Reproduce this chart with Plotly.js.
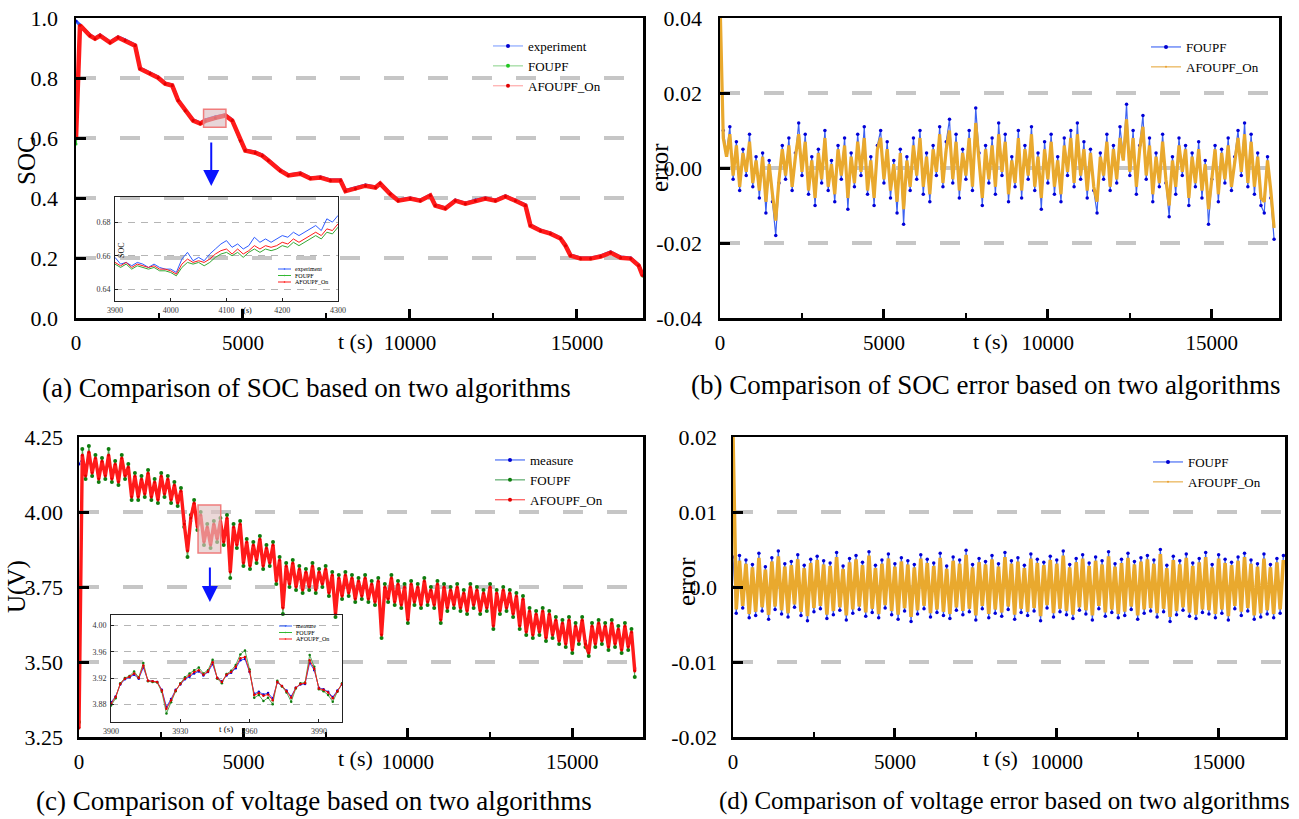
<!DOCTYPE html>
<html>
<head>
<meta charset="utf-8">
<script src="https://cdn.plot.ly/plotly-3.0.1.min.js"></script>
<style>html,body{margin:0;padding:0;background:#fff;}#chart{width:1299px;height:819px;}</style>
</head>
<body>
<div id="chart"></div>
<script>
// ---------- DATA ----------
// (a) SOC main
const tSOC = [0,120,420,570,720,1020,1260,1470,1770,1920,
  2220,2460,2670,2880,3060,3270,3510,3720,3870,4170,
  4470,4680,4920,5070,5370,5580,5760,6120,6360,6720,
  7020,7320,7620,7920,8070,8370,8670,8970,9110,9410,
  9650,10010,10310,10610,10760,11060,11360,11660,11960,12260,
  12560,12860,13160,13460,13610,13910,14210,14510,14660,14810,
  15110,15410,15710,16010,16310,16610,16850,16970];
const socExperiment = [0.99,0.977,0.943,0.933,0.943,0.92,0.937,0.927,0.91,0.833,
  0.817,0.803,0.783,0.777,0.727,0.693,0.66,0.65,0.66,0.67,
  0.677,0.66,0.593,0.56,0.553,0.543,0.527,0.493,0.477,0.483,
  0.467,0.47,0.46,0.46,0.425,0.433,0.443,0.437,0.45,0.415,
  0.393,0.40,0.393,0.41,0.377,0.367,0.393,0.383,0.393,0.40,
  0.393,0.407,0.393,0.377,0.31,0.293,0.283,0.267,0.243,0.21,
  0.20,0.20,0.207,0.22,0.203,0.20,0.177,0.143];
const socFOUPF = [0.58,0.975,0.940,0.930,0.940,0.917,0.934,0.924,0.907,0.830,
  0.814,0.800,0.780,0.774,0.724,0.690,0.657,0.647,0.656,0.665,
  0.673,0.657,0.590,0.557,0.550,0.540,0.524,0.490,0.474,0.480,
  0.464,0.467,0.457,0.457,0.422,0.430,0.440,0.434,0.447,0.412,
  0.390,0.397,0.390,0.407,0.374,0.364,0.390,0.380,0.390,0.397,
  0.390,0.404,0.390,0.374,0.307,0.290,0.280,0.264,0.240,0.207,
  0.197,0.197,0.204,0.217,0.200,0.197,0.174,0.140];
const socAFOUPF = [0.60,0.976,0.941,0.931,0.941,0.918,0.935,0.925,0.908,0.831,
  0.815,0.801,0.781,0.775,0.725,0.691,0.658,0.648,0.657,0.667,
  0.675,0.658,0.591,0.558,0.551,0.541,0.525,0.491,0.475,0.481,
  0.465,0.468,0.458,0.458,0.423,0.431,0.441,0.435,0.448,0.413,
  0.391,0.398,0.391,0.408,0.375,0.365,0.391,0.381,0.391,0.398,
  0.391,0.405,0.391,0.375,0.308,0.291,0.281,0.265,0.241,0.208,
  0.198,0.198,0.205,0.218,0.201,0.198,0.175,0.141];

// (a) inset 3900-4300 s
const tInsetA = [3900,3910,3920,3930,3940,3950,3960,3970,3980,3990,4000,4010,4020,4030,4040,4050,4060,4070,4080,4090,4100,
  4110,4120,4130,4140,4150,4160,4170,4180,4190,4200,4210,4220,4230,4240,4250,4260,4270,4280,4290,4300];
const insAExperiment = [0.659,0.655,0.656,0.654,0.656,0.655,0.653,0.655,0.653,0.652,0.652,0.650,0.658,0.662,0.657,0.659,0.657,0.661,0.664,0.667,0.669,
  0.665,0.667,0.664,0.666,0.671,0.668,0.670,0.668,0.670,0.672,0.671,0.674,0.672,0.674,0.676,0.678,0.675,0.682,0.680,0.684];
const insAFOUPF = [0.655,0.653,0.655,0.652,0.654,0.653,0.652,0.653,0.651,0.651,0.650,0.648,0.653,0.656,0.655,0.656,0.654,0.656,0.659,0.661,0.662,
  0.660,0.662,0.659,0.662,0.664,0.662,0.664,0.663,0.664,0.666,0.665,0.668,0.666,0.668,0.670,0.672,0.670,0.674,0.673,0.677];
const insAAFOUPF = [0.656,0.654,0.656,0.653,0.655,0.654,0.653,0.654,0.652,0.652,0.651,0.649,0.655,0.658,0.656,0.657,0.656,0.658,0.661,0.663,0.664,
  0.661,0.664,0.661,0.663,0.666,0.664,0.666,0.665,0.666,0.668,0.667,0.670,0.668,0.670,0.672,0.674,0.672,0.676,0.675,0.679];

// (b) SOC error, sampled every 100 s
const errSocFOUPF = [0.040,0.010,0.004,0.011,-0.003,0.007,-0.006,0.005,-0.002,0.009,
  -0.005,0.003,-0.008,0.004,-0.012,0.002,-0.009,-0.018,-0.004,0.006,
  -0.003,0.008,-0.006,0.004,0.012,-0.002,0.009,-0.007,0.003,-0.010,
  0.005,-0.004,0.010,-0.006,0.002,-0.009,0.006,-0.003,0.008,-0.011,
  0.004,-0.005,0.009,-0.002,0.011,-0.007,0.003,-0.010,0.006,0.010,
  -0.004,0.007,-0.008,0.002,-0.012,0.005,-0.015,0.003,-0.006,0.008,
  -0.003,0.010,-0.007,0.004,-0.009,0.006,-0.002,0.011,-0.005,0.007,
  0.013,-0.004,0.009,-0.008,0.005,-0.003,0.010,-0.006,0.016,0.004,
  -0.010,0.006,-0.004,0.008,-0.007,0.012,-0.002,0.009,-0.009,0.003,
  -0.005,0.010,-0.008,0.006,-0.003,0.011,-0.006,0.004,-0.011,0.007,
  -0.004,0.009,-0.007,0.003,-0.009,0.008,-0.002,0.010,-0.005,0.012,
  -0.003,0.007,-0.008,0.005,-0.006,-0.012,0.004,-0.003,0.009,-0.006,
  0.006,-0.004,0.011,0.003,0.017,-0.002,0.010,-0.007,0.006,0.014,
  -0.003,0.008,-0.009,0.004,-0.005,0.009,-0.004,-0.013,0.003,-0.007,
  0.008,-0.002,0.006,-0.010,0.004,-0.005,0.007,-0.008,0.002,-0.015,
  -0.003,0.006,-0.009,0.005,-0.004,0.008,-0.006,0.003,0.010,-0.002,
  0.012,-0.005,0.009,-0.007,0.004,-0.010,-0.012,0.003,-0.008,-0.019];
const errSocAFOUPF = [0.045,0.008,0.003,0.009,-0.002,0.006,-0.005,0.004,-0.001,0.007,
  -0.004,0.002,-0.006,0.003,-0.009,0.001,-0.007,-0.014,-0.003,0.005,
  -0.002,0.006,-0.005,0.003,0.009,-0.001,0.007,-0.006,0.002,-0.008,
  0.004,-0.003,0.008,-0.005,0.001,-0.007,0.005,-0.002,0.006,-0.008,
  0.003,-0.004,0.007,-0.001,0.008,-0.006,0.002,-0.008,0.005,0.008,
  -0.003,0.005,-0.006,0.001,-0.009,0.004,-0.011,0.002,-0.005,0.006,
  -0.002,0.008,-0.005,0.003,-0.007,0.005,-0.001,0.009,-0.004,0.005,
  0.010,-0.003,0.007,-0.006,0.004,-0.002,0.008,-0.005,0.012,0.003,
  -0.008,0.005,-0.003,0.006,-0.005,0.009,-0.001,0.007,-0.007,0.002,
  -0.004,0.008,-0.006,0.005,-0.002,0.009,-0.005,0.003,-0.008,0.005,
  -0.003,0.007,-0.005,0.002,-0.007,0.006,-0.001,0.008,-0.004,0.009,
  -0.002,0.005,-0.006,0.004,-0.005,-0.009,0.003,-0.002,0.007,-0.005,
  0.005,-0.003,0.008,0.002,0.013,-0.001,0.008,-0.005,0.005,0.011,
  -0.002,0.006,-0.007,0.003,-0.004,0.007,-0.003,-0.010,0.002,-0.005,
  0.006,-0.001,0.005,-0.008,0.003,-0.004,0.005,-0.006,0.001,-0.011,
  -0.002,0.005,-0.007,0.004,-0.003,0.006,-0.005,0.002,0.008,-0.001,
  0.009,-0.004,0.007,-0.005,0.003,-0.008,-0.009,0.002,-0.006,-0.016];

// (c) voltage, sampled every 100 s
const uMeasure = [4.16,4.18,4.13,4.19,4.14,4.17,4.12,4.16,4.13,4.18,4.12,4.15,4.11,4.17,4.13,4.14,4.06,4.11,4.06,4.10,
  4.07,4.12,4.06,4.09,4.05,4.11,4.07,4.10,4.05,4.08,4.04,4.06,3.97,3.88,3.97,4.02,3.96,3.98,3.91,3.94,
  3.90,3.95,3.92,3.96,3.91,3.97,3.81,3.94,3.90,3.95,3.84,3.89,3.83,3.88,3.85,3.90,3.83,3.87,3.84,3.88,
  3.78,3.83,3.69,3.81,3.77,3.82,3.76,3.80,3.75,3.79,3.76,3.81,3.75,3.79,3.77,3.80,3.74,3.78,3.67,3.77,
  3.73,3.78,3.74,3.77,3.72,3.76,3.73,3.77,3.72,3.75,3.71,3.76,3.60,3.74,3.72,3.77,3.71,3.75,3.70,3.74,
  3.65,3.75,3.71,3.74,3.70,3.76,3.71,3.73,3.70,3.75,3.65,3.74,3.69,3.73,3.70,3.74,3.69,3.72,3.68,3.74,
  3.70,3.73,3.68,3.72,3.69,3.74,3.63,3.72,3.68,3.73,3.69,3.72,3.67,3.71,3.63,3.70,3.61,3.66,3.60,3.65,
  3.61,3.66,3.59,3.65,3.60,3.63,3.58,3.62,3.57,3.63,3.55,3.61,3.58,3.63,3.57,3.54,3.61,3.57,3.62,3.58,
  3.61,3.56,3.62,3.57,3.60,3.55,3.61,3.56,3.59,3.48];
const uFOUPF = [3.30,4.21,4.11,4.22,4.12,4.19,4.10,4.18,4.11,4.21,4.10,4.17,4.09,4.19,4.11,4.16,4.04,4.13,4.04,4.12,
  4.05,4.14,4.04,4.11,4.03,4.13,4.05,4.12,4.03,4.10,4.02,4.08,3.95,3.85,3.99,4.04,3.94,4.00,3.89,3.96,
  3.88,3.97,3.90,3.98,3.89,3.99,3.78,3.96,3.88,3.97,3.82,3.91,3.81,3.90,3.83,3.92,3.81,3.89,3.82,3.90,
  3.76,3.85,3.66,3.83,3.75,3.84,3.74,3.82,3.73,3.81,3.74,3.83,3.73,3.81,3.75,3.82,3.72,3.80,3.65,3.79,
  3.71,3.80,3.72,3.79,3.70,3.78,3.71,3.79,3.70,3.77,3.69,3.78,3.58,3.76,3.70,3.79,3.69,3.77,3.68,3.76,
  3.63,3.77,3.69,3.76,3.68,3.78,3.69,3.75,3.68,3.77,3.63,3.76,3.67,3.75,3.68,3.76,3.67,3.74,3.66,3.76,
  3.68,3.75,3.66,3.74,3.67,3.76,3.61,3.74,3.66,3.75,3.67,3.74,3.65,3.73,3.61,3.72,3.59,3.68,3.58,3.67,
  3.59,3.68,3.57,3.67,3.58,3.65,3.56,3.64,3.55,3.65,3.53,3.63,3.56,3.65,3.55,3.52,3.63,3.55,3.64,3.56,
  3.63,3.54,3.64,3.55,3.62,3.53,3.63,3.54,3.61,3.45];
const uAFOUPF = [3.28,4.19,4.12,4.20,4.13,4.18,4.11,4.17,4.12,4.19,4.11,4.16,4.10,4.18,4.12,4.15,4.05,4.12,4.05,4.11,
  4.06,4.13,4.05,4.10,4.04,4.12,4.06,4.11,4.04,4.09,4.03,4.07,3.96,3.87,3.98,4.03,3.95,3.99,3.90,3.95,
  3.89,3.96,3.91,3.97,3.90,3.98,3.80,3.95,3.89,3.96,3.83,3.90,3.82,3.89,3.84,3.91,3.82,3.88,3.83,3.89,
  3.77,3.84,3.68,3.82,3.76,3.83,3.75,3.81,3.74,3.80,3.75,3.82,3.74,3.80,3.76,3.81,3.73,3.79,3.66,3.78,
  3.72,3.79,3.73,3.78,3.71,3.77,3.72,3.78,3.71,3.76,3.70,3.77,3.59,3.75,3.71,3.78,3.70,3.76,3.69,3.75,
  3.64,3.76,3.70,3.75,3.69,3.77,3.70,3.74,3.69,3.76,3.64,3.75,3.68,3.74,3.69,3.75,3.68,3.73,3.67,3.75,
  3.69,3.74,3.67,3.73,3.68,3.75,3.62,3.73,3.67,3.74,3.68,3.73,3.66,3.72,3.62,3.71,3.60,3.67,3.59,3.66,
  3.60,3.67,3.58,3.66,3.59,3.64,3.57,3.63,3.56,3.64,3.54,3.62,3.57,3.64,3.56,3.53,3.62,3.56,3.63,3.57,
  3.62,3.55,3.63,3.56,3.61,3.54,3.62,3.55,3.60,3.47];

// (c) inset 3900-4000 s, every 2 s
const tInsetC = [3900,3902,3904,3906,3908,3910,3912,3914,3916,3918,3920,3922,3924,3926,3928,3930,3932,3934,3936,3938,
  3940,3942,3944,3946,3948,3950,3952,3954,3956,3958,3960,3962,3964,3966,3968,3970,3972,3974,3976,3978,
  3980,3982,3984,3986,3988,3990,3992,3994,3996,3998,4000];
const insCMeasure = [3.883,3.892,3.910,3.918,3.921,3.925,3.919,3.936,3.916,3.915,3.914,3.902,3.876,3.888,3.902,3.910,3.918,3.922,3.927,3.930,
  3.924,3.929,3.941,3.920,3.915,3.924,3.928,3.935,3.947,3.949,3.929,3.896,3.899,3.895,3.897,3.889,3.913,3.908,3.901,3.892,
  3.905,3.910,3.911,3.943,3.932,3.905,3.903,3.899,3.891,3.901,3.910];
const insCFOUPF = [3.878,3.889,3.912,3.920,3.923,3.930,3.921,3.943,3.915,3.914,3.913,3.899,3.866,3.883,3.900,3.912,3.921,3.927,3.932,3.936,
  3.927,3.932,3.948,3.919,3.912,3.926,3.931,3.940,3.956,3.962,3.933,3.890,3.894,3.885,3.890,3.880,3.916,3.907,3.898,3.884,
  3.904,3.912,3.913,3.955,3.937,3.903,3.900,3.894,3.884,3.899,3.912];
const insCAFOUPF = [3.881,3.891,3.911,3.919,3.922,3.927,3.920,3.939,3.916,3.915,3.914,3.901,3.873,3.886,3.901,3.911,3.919,3.924,3.929,3.932,
  3.925,3.930,3.944,3.920,3.914,3.925,3.929,3.937,3.950,3.952,3.930,3.894,3.897,3.893,3.895,3.886,3.914,3.908,3.900,3.890,
  3.905,3.911,3.912,3.947,3.934,3.904,3.902,3.898,3.889,3.900,3.911];

// (d) voltage error, every 100 s
const errUFOUPF = [0.0040,-0.0035,0.0042,-0.0028,0.0036,-0.0041,0.0030,-0.0038,0.0045,-0.0032,0.0027,-0.0043,0.0039,-0.0030,0.0048,-0.0036,0.0031,-0.0040,0.0034,-0.0027,
  0.0043,-0.0038,0.0029,-0.0045,0.0037,-0.0033,0.0041,-0.0029,0.0035,-0.0042,0.0032,-0.0037,0.0046,-0.0031,0.0028,-0.0044,0.0038,-0.0035,0.0042,-0.0030,
  0.0033,-0.0039,0.0047,-0.0034,0.0029,-0.0041,0.0036,-0.0028,0.0044,-0.0037,0.0031,-0.0043,0.0039,-0.0032,0.0035,-0.0046,0.0030,-0.0036,0.0043,-0.0029,
  0.0037,-0.0040,0.0032,-0.0034,0.0045,-0.0038,0.0028,-0.0042,0.0040,-0.0031,0.0036,-0.0037,0.0049,-0.0033,0.0030,-0.0044,0.0038,-0.0029,0.0034,-0.0041,
  0.0042,-0.0035,0.0031,-0.0039,0.0046,-0.0030,0.0035,-0.0043,0.0039,-0.0034,0.0029,-0.0038,0.0044,-0.0032,0.0037,-0.0045,0.0033,-0.0028,0.0041,-0.0040,
  0.0036,-0.0033,0.0048,-0.0037,0.0030,-0.0042,0.0038,-0.0031,0.0043,-0.0036,0.0032,-0.0044,0.0040,-0.0029,0.0035,-0.0039,0.0047,-0.0034,0.0031,-0.0041,
  0.0037,-0.0038,0.0045,-0.0030,0.0034,-0.0043,0.0039,-0.0035,0.0042,-0.0032,0.0036,-0.0040,0.0050,-0.0033,0.0029,-0.0046,0.0041,-0.0037,0.0035,-0.0031,
  0.0044,-0.0039,0.0032,-0.0042,0.0038,-0.0034,0.0046,-0.0036,0.0030,-0.0041,0.0043,-0.0035,0.0037,-0.0044,0.0033,-0.0029,0.0040,-0.0038,0.0045,-0.0032,
  0.0036,-0.0043,0.0031,-0.0040,0.0044,-0.0036,0.0030,-0.0041,0.0038,-0.0035,0.0042];
const errUAFOUPF = [0.0200,-0.0030,0.0035,-0.0025,0.0031,-0.0036,0.0026,-0.0033,0.0039,-0.0027,0.0023,-0.0037,0.0034,-0.0026,0.0041,-0.0031,0.0027,-0.0035,0.0029,-0.0023,
  0.0037,-0.0033,0.0025,-0.0039,0.0032,-0.0028,0.0036,-0.0025,0.0030,-0.0037,0.0028,-0.0032,0.0040,-0.0027,0.0024,-0.0038,0.0033,-0.0030,0.0037,-0.0026,
  0.0029,-0.0034,0.0042,-0.0029,0.0025,-0.0036,0.0031,-0.0024,0.0038,-0.0032,0.0027,-0.0037,0.0034,-0.0028,0.0030,-0.0040,0.0026,-0.0031,0.0038,-0.0025,
  0.0032,-0.0035,0.0028,-0.0030,0.0039,-0.0033,0.0024,-0.0036,0.0035,-0.0027,0.0031,-0.0032,0.0043,-0.0029,0.0026,-0.0038,0.0033,-0.0025,0.0030,-0.0036,
  0.0037,-0.0030,0.0027,-0.0034,0.0040,-0.0026,0.0031,-0.0037,0.0034,-0.0029,0.0025,-0.0033,0.0038,-0.0028,0.0032,-0.0039,0.0029,-0.0024,0.0036,-0.0035,
  0.0031,-0.0029,0.0042,-0.0032,0.0026,-0.0037,0.0033,-0.0027,0.0038,-0.0031,0.0028,-0.0038,0.0035,-0.0025,0.0030,-0.0034,0.0041,-0.0030,0.0027,-0.0036,
  0.0032,-0.0033,0.0039,-0.0026,0.0030,-0.0038,0.0034,-0.0030,0.0037,-0.0028,0.0031,-0.0035,0.0044,-0.0029,0.0025,-0.0040,0.0036,-0.0032,0.0030,-0.0027,
  0.0039,-0.0034,0.0028,-0.0037,0.0033,-0.0030,0.0040,-0.0031,0.0026,-0.0036,0.0038,-0.0030,0.0032,-0.0039,0.0029,-0.0025,0.0035,-0.0033,0.0040,-0.0028,
  0.0031,-0.0038,0.0027,-0.0035,0.0038,-0.0031,0.0026,-0.0036,0.0033,-0.0030,0.0036];

// tick labels
const socTickVals = [0,0.2,0.4,0.6,0.8,1.0];
const socTickText = ['0.0','0.2','0.4','0.6','0.8','1.0'];
const errSocTickVals = [-0.04,-0.02,0,0.02,0.04];
const errSocTickText = ['-0.04','-0.02','0.00','0.02','0.04'];
const uTickVals = [3.25,3.5,3.75,4.0,4.25];
const uTickText = ['3.25','3.50','3.75','4.00','4.25'];
const errUTickVals = [-0.02,-0.01,0,0.01,0.02];
const errUTickText = ['-0.02','-0.01','0.0','0.01','0.02'];
const insATickVals = [0.64,0.66,0.68];
const insATickText = ['0.64','0.66','0.68'];
const insAXVals = [3900,4000,4100,4200,4300];
const insCTickVals = [3.88,3.92,3.96,4.00];
const insCTickText = ['3.88','3.92','3.96','4.00'];
const insCXVals = [3900,3930,3960,3990];
const insALegendNames = ['experiment','FOUPF','AFOUPF_On'];
const insCLegendNames = ['measure','FOUPF','AFOUPF_On'];

// ---------- LAYOUT HELPERS ----------
const W = 1299, H = 819;
const px = v => v / W;
const py = v => 1 - v / H;
const grid = n => Array.from({length: n}, (_, i) => i * 100);
const FONT = '"Liberation Serif", "Times New Roman", Times, "DejaVu Serif", serif';

const C_BLUE = '#2f5cff', C_BLUE_M = '#0000d8';
const C_GREEN = '#3cbf3c', C_GREEN_M = '#0e7d0e';
const C_RED = '#ff1a1a', C_RED_M = '#e00000';
const C_ORANGE = '#e9a92e';

function mainX(d0, d1, anchor, rmax) {
  return {domain: [px(d0), px(d1)], anchor: anchor, range: [0, rmax],
    showline: true, linewidth: 2.5, linecolor: 'black', mirror: true,
    ticks: 'inside', ticklen: 9, tickwidth: 3, tickcolor: 'black',
    tickmode: 'linear', tick0: 0, dtick: 5000, tickformat: 'd',
    minor: {dtick: 2500, tick0: 0, ticks: 'inside', ticklen: 5, tickwidth: 2, tickcolor: 'black', showgrid: false},
    showgrid: false, zeroline: false, tickfont: {size: 21, color: 'black', family: FONT},
    ticklabelstandoff: 4};
}
function mainY(d0, d1, anchor, range, vals, text, standoff) {
  return {domain: [py(d1), py(d0)], anchor: anchor, range: range,
    showline: true, linewidth: 2.5, linecolor: 'black', mirror: true,
    ticks: 'inside', ticklen: 10, tickwidth: 3, tickcolor: 'black',
    tickmode: 'array', tickvals: vals, ticktext: text,
    showgrid: true, gridcolor: '#c6c6c6', gridwidth: 4, griddash: '20px,24px',
    zeroline: false, tickfont: {size: 22, color: 'black', family: FONT}, ticklabelstandoff: standoff};
}
function insetX(d0, d1, anchor, range, vals) {
  return {domain: [px(d0), px(d1)], anchor: anchor, range: range,
    showline: true, linewidth: 1, linecolor: '#222', mirror: true,
    ticks: 'inside', ticklen: 3, tickwidth: 1, tickcolor: '#222',
    tickmode: 'array', tickvals: vals, tickformat: 'd',
    showgrid: false, zeroline: false, tickfont: {size: 8, color: '#333', family: FONT}, ticklabelstandoff: 1};
}
function insetY(d0, d1, anchor, range, vals, text) {
  return {domain: [py(d1), py(d0)], anchor: anchor, range: range,
    showline: true, linewidth: 1, linecolor: '#222', mirror: true,
    ticks: 'inside', ticklen: 3, tickwidth: 1, tickcolor: '#222',
    tickmode: 'array', tickvals: vals, ticktext: text,
    showgrid: true, gridcolor: '#b5b5b5', gridwidth: 1, griddash: '7px,6px',
    zeroline: false, tickfont: {size: 8, color: '#333', family: FONT}, ticklabelstandoff: 2};
}
// legend-only entries (thin light line + small dark dot, as in the figure's legends)
const legendEntry = (name, legend, xa, ya, lineColor, dotColor, dotSize) => ({
  x: [null], y: [null], xaxis: xa, yaxis: ya, name: name, legend: legend, mode: 'lines+markers',
  line: {color: lineColor, width: 1.2}, marker: {color: dotColor, size: dotSize}, hoverinfo: 'skip'});

// ---------- TRACES ----------
const traces = [
  // (a)
  {x: tSOC, y: socExperiment, xaxis: 'x', yaxis: 'y', name: 'experiment', showlegend: false, mode: 'lines+markers',
    line: {color: C_BLUE, width: 3}, marker: {color: C_BLUE_M, size: 3}},
  {x: tSOC, y: socFOUPF, xaxis: 'x', yaxis: 'y', name: 'FOUPF', showlegend: false, mode: 'lines+markers',
    line: {color: C_GREEN, width: 2}, marker: {color: '#22cc22', size: 3}},
  {x: tSOC, y: socAFOUPF, xaxis: 'x', yaxis: 'y', name: 'AFOUPF_On', showlegend: false, mode: 'lines+markers',
    line: {color: C_RED, width: 4.5}, marker: {color: C_RED_M, size: 3}},
  legendEntry('experiment', 'legend', 'x', 'y', '#8aa8ff', '#0000d0', 4),
  legendEntry('FOUPF', 'legend', 'x', 'y', '#9ad89a', '#22c822', 4),
  legendEntry('AFOUPF_On', 'legend', 'x', 'y', '#ffaaaa', '#e00000', 4),
  // (b)
  {x: grid(errSocFOUPF.length), y: errSocFOUPF, xaxis: 'x2', yaxis: 'y2', name: 'FOUPF', showlegend: false, mode: 'lines+markers',
    line: {color: '#3d62f0', width: 1.2}, marker: {color: C_BLUE_M, size: 3.5}},
  {x: grid(errSocAFOUPF.length), y: errSocAFOUPF, xaxis: 'x2', yaxis: 'y2', name: 'AFOUPF_On', showlegend: false, mode: 'lines',
    line: {color: C_ORANGE, width: 3.2}},
  legendEntry('FOUPF', 'legend2', 'x2', 'y2', '#4a6ef5', '#0000d0', 4),
  legendEntry('AFOUPF_On', 'legend2', 'x2', 'y2', '#e9b050', '#e9a030', 2),
  // (c)
  {x: grid(uMeasure.length), y: uMeasure, xaxis: 'x3', yaxis: 'y3', name: 'measure', showlegend: false, mode: 'lines+markers',
    line: {color: C_BLUE, width: 1}, marker: {color: C_BLUE_M, size: 3}},
  {x: grid(uFOUPF.length), y: uFOUPF, xaxis: 'x3', yaxis: 'y3', name: 'FOUPF', showlegend: false, mode: 'lines+markers',
    line: {color: '#5aaa5a', width: 1.2}, marker: {color: C_GREEN_M, size: 4}},
  {x: grid(uAFOUPF.length), y: uAFOUPF, xaxis: 'x3', yaxis: 'y3', name: 'AFOUPF_On', showlegend: false, mode: 'lines+markers',
    line: {color: C_RED, width: 3.4}, marker: {color: C_RED_M, size: 3}},
  legendEntry('measure', 'legend3', 'x3', 'y3', '#4a6ef5', '#0000d0', 4),
  legendEntry('FOUPF', 'legend3', 'x3', 'y3', '#5aaa6a', '#0e7d0e', 4),
  legendEntry('AFOUPF_On', 'legend3', 'x3', 'y3', '#ff5050', '#e00000', 4),
  // (d)
  {x: grid(errUFOUPF.length), y: errUFOUPF, xaxis: 'x4', yaxis: 'y4', name: 'FOUPF', showlegend: false, mode: 'lines+markers',
    line: {color: '#3d62f0', width: 1.2}, marker: {color: C_BLUE_M, size: 3.5}},
  {x: grid(errUAFOUPF.length), y: errUAFOUPF, xaxis: 'x4', yaxis: 'y4', name: 'AFOUPF_On', showlegend: false, mode: 'lines',
    line: {color: C_ORANGE, width: 3.6}},
  legendEntry('FOUPF', 'legend4', 'x4', 'y4', '#4a6ef5', '#0000d0', 4),
  legendEntry('AFOUPF_On', 'legend4', 'x4', 'y4', '#e9b050', '#e9a030', 2),
  // inset (a)
  {x: tInsetA, y: insAExperiment, xaxis: 'x5', yaxis: 'y5', name: 'experiment', showlegend: false, mode: 'lines',
    line: {color: C_BLUE, width: 1}},
  {x: tInsetA, y: insAFOUPF, xaxis: 'x5', yaxis: 'y5', name: 'FOUPF', showlegend: false, mode: 'lines',
    line: {color: '#33a833', width: 1}},
  {x: tInsetA, y: insAAFOUPF, xaxis: 'x5', yaxis: 'y5', name: 'AFOUPF_On', showlegend: false, mode: 'lines',
    line: {color: C_RED, width: 1}},
  // inset (c)
  {x: tInsetC, y: insCMeasure, xaxis: 'x6', yaxis: 'y6', name: 'measure', showlegend: false, mode: 'lines+markers',
    line: {color: C_BLUE, width: 1}, marker: {color: C_BLUE_M, size: 2.5}},
  {x: tInsetC, y: insCFOUPF, xaxis: 'x6', yaxis: 'y6', name: 'FOUPF', showlegend: false, mode: 'lines+markers',
    line: {color: '#5aaa5a', width: 1}, marker: {color: C_GREEN_M, size: 2.5}},
  {x: tInsetC, y: insCAFOUPF, xaxis: 'x6', yaxis: 'y6', name: 'AFOUPF_On', showlegend: false, mode: 'lines+markers',
    line: {color: C_RED, width: 1}, marker: {color: C_RED_M, size: 2.5}}
];

const legendBase = (x, y, size) => ({x: px(x), y: py(y), xanchor: 'left', yanchor: 'top',
  bgcolor: 'rgba(0,0,0,0)', borderwidth: 0, tracegroupgap: 0, itemwidth: 30,
  font: {family: FONT, size: size, color: 'black'}});

const ann = (x, y, text, size, extra) => Object.assign({xref: 'paper', yref: 'paper', x: px(x), y: py(y),
  text: text, showarrow: false, font: {family: FONT, size: size, color: 'black'}, xanchor: 'center', yanchor: 'middle'}, extra || {});

// small legends inside the insets (text + line sample)
const insetLegendColors = [C_BLUE, '#33b833', C_RED];
const insetLegendRows = (x0, rows, names) => {
  const sh = [], an = [];
  names.forEach((nm, i) => {
    sh.push({type: 'line', xref: 'paper', yref: 'paper', x0: px(x0), x1: px(x0 + 13), y0: py(rows[i]), y1: py(rows[i]),
      line: {color: insetLegendColors[i], width: 1}});
    sh.push({type: 'circle', xref: 'paper', yref: 'paper', x0: px(x0 + 5.7), x1: px(x0 + 7.3), y0: py(rows[i] + 0.8), y1: py(rows[i] - 0.8),
      fillcolor: insetLegendColors[i], line: {width: 0}});
    an.push(ann(x0 + 15, rows[i], nm, 6, {xanchor: 'left'}));
  });
  return {sh, an};
};
const legA = insetLegendRows(278, [269, 275.5, 282], insALegendNames);
const legC = insetLegendRows(279, [626, 632.5, 639], insCLegendNames);

const layout = {
  width: W, height: H, autosize: false,
  margin: {l: 0, r: 0, t: 0, b: 0, pad: 0},
  paper_bgcolor: 'white', plot_bgcolor: 'rgba(0,0,0,0)',
  font: {family: FONT, color: 'black'},
  showlegend: true,
  xaxis: mainX(76, 643, 'y', 16980),
  yaxis: mainY(18, 318, 'x', [0, 1], socTickVals, socTickText, 11),
  xaxis2: mainX(720, 1279, 'y2', 17050),
  yaxis2: mainY(18, 318, 'x2', [-0.04, 0.04], errSocTickVals, errSocTickText, 11),
  xaxis3: mainX(79, 643, 'y3', 17150),
  yaxis3: mainY(437, 737, 'x3', [3.25, 4.25], uTickVals, uTickText, 9),
  xaxis4: mainX(733, 1285, 'y4', 17050),
  yaxis4: mainY(437, 737, 'x4', [-0.02, 0.02], errUTickVals, errUTickText, 9),
  xaxis5: insetX(115, 338, 'y5', [3900, 4300], insAXVals),
  yaxis5: insetY(197, 301, 'x5', [0.633, 0.695], insATickVals, insATickText),
  xaxis6: insetX(111, 342, 'y6', [3900, 4000], insCXVals),
  yaxis6: insetY(615, 722, 'x6', [3.853, 4.016], insCTickVals, insCTickText),
  legend: legendBase(488, 31, 13),
  legend2: legendBase(1146, 32, 13),
  legend3: legendBase(490, 445, 13),
  legend4: legendBase(1148, 447, 13),
  shapes: [
    {type: 'rect', xref: 'x', yref: 'y', x0: 3820, x1: 4490, y0: 0.636, y1: 0.696,
      fillcolor: 'rgba(215,185,190,0.6)', line: {color: '#f07c7c', width: 1.5}, layer: 'above'},
    {type: 'rect', xref: 'x3', yref: 'y3', x0: 3620, x1: 4310, y0: 3.863, y1: 4.023,
      fillcolor: 'rgba(225,195,195,0.65)', line: {color: '#f07c7c', width: 1.5}, layer: 'above'}
  ].concat(legA.sh, legC.sh),
  annotations: [
    // arrows to insets
    {xref: 'x', yref: 'y', axref: 'x', ayref: 'y', x: 4050, y: 0.44, ax: 4050, ay: 0.59, text: '',
      showarrow: true, arrowhead: 2, arrowsize: 1.6, arrowwidth: 2, arrowcolor: '#0a14ff'},
    {xref: 'x3', yref: 'y3', axref: 'x3', ayref: 'y3', x: 3980, y: 3.70, ax: 3980, ay: 3.82, text: '',
      showarrow: true, arrowhead: 2, arrowsize: 1.6, arrowwidth: 2, arrowcolor: '#0a14ff'},
    // captions
    ann(306, 388, '(a) Comparison of SOC based on two algorithms', 27),
    ann(985, 385, '(b) Comparison of SOC error based on two algorithms', 27),
    ann(314, 801, '(c) Comparison of voltage based on two algorithms', 27),
    ann(1004, 801, '(d) Comparison of voltage error based on two algorithms', 25),
    // x titles
    ann(355, 341, 't (s)', 22),
    ann(990, 341, 't (s)', 22),
    ann(355, 758, 't (s)', 22),
    ann(1000, 758, 't (s)', 22),
    // y titles
    ann(27, 160, 'SOC', 25, {textangle: -90}),
    ann(660, 168, 'error', 25, {textangle: -90}),
    ann(17, 587, 'U(V)', 25, {textangle: -90}),
    ann(686, 582, 'error', 25, {textangle: -90}),
    // inset labels
    ann(121, 250, 'SOC', 8, {textangle: -90}),
    ann(246, 310, 't(s)', 8),
    ann(226, 729, 't (s)', 9)
  ].concat(legA.an, legC.an)
};

Plotly.newPlot('chart', traces, layout, {displayModeBar: false, staticPlot: true});
</script>
</body>
</html>
